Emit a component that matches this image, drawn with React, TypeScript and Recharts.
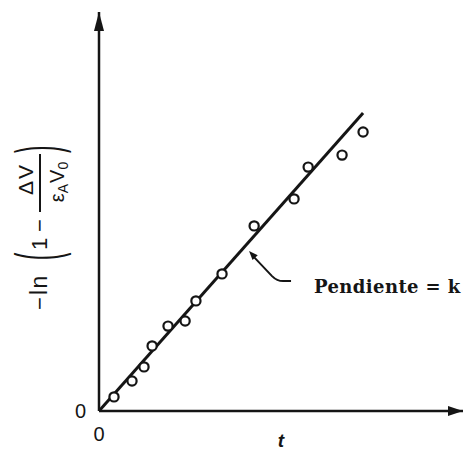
import React from "react";
import {
  ComposedChart,
  Line,
  ReferenceDot,
  Scatter,
  XAxis,
  YAxis,
} from "recharts";

// measured points: time vs -ln(1 - dV / (eA V0))
const tValues = [0.5, 1.1, 1.5, 1.77, 2.3, 2.87, 3.23, 4.1, 5.17, 6.5, 6.97, 8.1, 8.8];
const lnValues = [0.47, 1.0, 1.47, 2.17, 2.83, 3.0, 3.67, 4.57, 6.17, 7.07, 8.13, 8.53, 9.3];

// fitted straight line through the origin (slope = k)
const fitT = [0, 8.8];
const fitLn = [0, 9.93];

const xTicks = [0];
const yTicks = [0];

const X_MAX = 12.13;
const Y_MAX = 13.3;
const INK = "#151515";

const points = tValues.map((t, i) => ({ x: t, y: lnValues[i] }));
const fitLine = fitT.map((t, i) => ({ x: t, y: fitLn[i] }));

function OpenCircle(props: any) {
  const { cx, cy } = props;
  return <circle cx={cx} cy={cy} r={4.6} fill="#fff" stroke={INK} strokeWidth={2.2} />;
}

function UpArrow({ cx, cy }: any) {
  return <polygon points={`${cx},${cy} ${cx - 5},${cy + 19} ${cx + 5},${cy + 19}`} fill={INK} />;
}

function RightArrow({ cx, cy }: any) {
  return <polygon points={`${cx},${cy} ${cx - 15},${cy - 5} ${cx - 15},${cy + 5}`} fill={INK} />;
}

// leader arrow pointing at the fitted line, with its caption
function SlopeNote({ cx, cy }: any) {
  return (
    <g>
      <polygon
        points={`${cx},${cy} ${cx + 3.5},${cy + 9} ${cx + 8.7},${cy + 4.2}`}
        fill={INK}
      />
      <path
        d={`M${cx + 5},${cy + 6} L${cx + 23},${cy + 25} Q${cx + 28},${cy + 30} ${cx + 34},${cy + 30} L${cx + 42},${cy + 30}`}
        fill="none"
        stroke={INK}
        strokeWidth={2}
      />
      <text
        x={cx + 65}
        y={cy + 42}
        fill={INK}
        fontFamily="'DejaVu Serif', serif"
        fontWeight="bold"
        fontSize={18}
        letterSpacing={0.4}
      >
        Pendiente = k
      </text>
    </g>
  );
}

function YTick({ x, y, payload }: any) {
  return (
    <text x={x - 13} y={y + 7} textAnchor="end" fill={INK} fontFamily="'Liberation Sans', Arial, sans-serif" fontSize={20}>
      {payload.value}
    </text>
  );
}

function XTick({ x, y, payload }: any) {
  return (
    <text x={x} y={y + 30} textAnchor="middle" fill={INK} fontFamily="'Liberation Sans', Arial, sans-serif" fontSize={20}>
      {payload.value}
    </text>
  );
}

// rotated axis title: -ln(1 - ΔV / (εA V0))
function YTitle() {
  const font = "'Liberation Sans', Arial, sans-serif";
  return (
    <g transform="translate(47, 310) rotate(-90)" fill={INK} fontFamily={font}>
      <text x={0} y={0} fontSize={22}>−</text>
      <text x={15} y={0} fontSize={23} letterSpacing={1.5}>ln</text>
      <text transform="translate(50, -4.5) scale(1, 2.8)" x={0} y={5.7} fontSize={22}>(</text>
      <text x={60} y={0} fontSize={22}>1</text>
      <text x={78} y={0} fontSize={22}>−</text>
      <line x1={98} y1={-7} x2={156} y2={-7} stroke={INK} strokeWidth={2} />
      <text x={131} y={-14} fontSize={21} textAnchor="middle" letterSpacing={2}>ΔV</text>
      <text x={128} y={17} fontSize={20} textAnchor="middle">
        ε
        <tspan fontSize={14} dy={4}>A</tspan>
        <tspan fontSize={20} dy={-4} dx={1}>V</tspan>
        <tspan fontSize={14} dy={4}>0</tspan>
      </text>
      <text transform="translate(157, -4.5) scale(1, 2.8)" x={0} y={5.7} fontSize={22}>)</text>
    </g>
  );
}

export default function App() {
  return (
    <div style={{ position: "absolute", left: 0, top: 0, width: 465, height: 453, background: "#fff" }}>
      <ComposedChart
        width={465}
        height={453}
        margin={{ top: 12, right: 2, bottom: 12, left: 59 }}
      >
        <XAxis
          type="number"
          dataKey="x"
          domain={[0, X_MAX]}
          ticks={xTicks}
          height={30}
          tickSize={0}
          tickMargin={0}
          tick={<XTick />}
          axisLine={{ stroke: INK, strokeWidth: 2.5 }}
          tickLine={false}
          allowDataOverflow
        />
        <YAxis
          type="number"
          dataKey="y"
          domain={[0, Y_MAX]}
          ticks={yTicks}
          width={40}
          tickSize={0}
          tickMargin={0}
          tick={<YTick />}
          axisLine={{ stroke: INK, strokeWidth: 2.5 }}
          tickLine={false}
          allowDataOverflow
        />
        <Line
          data={fitLine}
          dataKey="y"
          type="linear"
          stroke={INK}
          strokeWidth={3}
          dot={false}
          activeDot={false}
          isAnimationActive={false}
        />
        <Scatter data={points} dataKey="y" shape={<OpenCircle />} isAnimationActive={false} />
        <ReferenceDot x={0} y={Y_MAX} shape={<UpArrow />} ifOverflow="visible" />
        <ReferenceDot x={X_MAX} y={0} shape={<RightArrow />} ifOverflow="visible" />
        <ReferenceDot x={5.0} y={5.33} shape={<SlopeNote />} ifOverflow="visible" />
        <YTitle />
        <text
          x={281}
          y={447}
          textAnchor="middle"
          fill={INK}
          fontFamily="'Liberation Sans', Arial, sans-serif"
          fontStyle="italic"
          fontWeight="bold"
          fontSize={19}
        >
          t
        </text>
      </ComposedChart>
    </div>
  );
}
